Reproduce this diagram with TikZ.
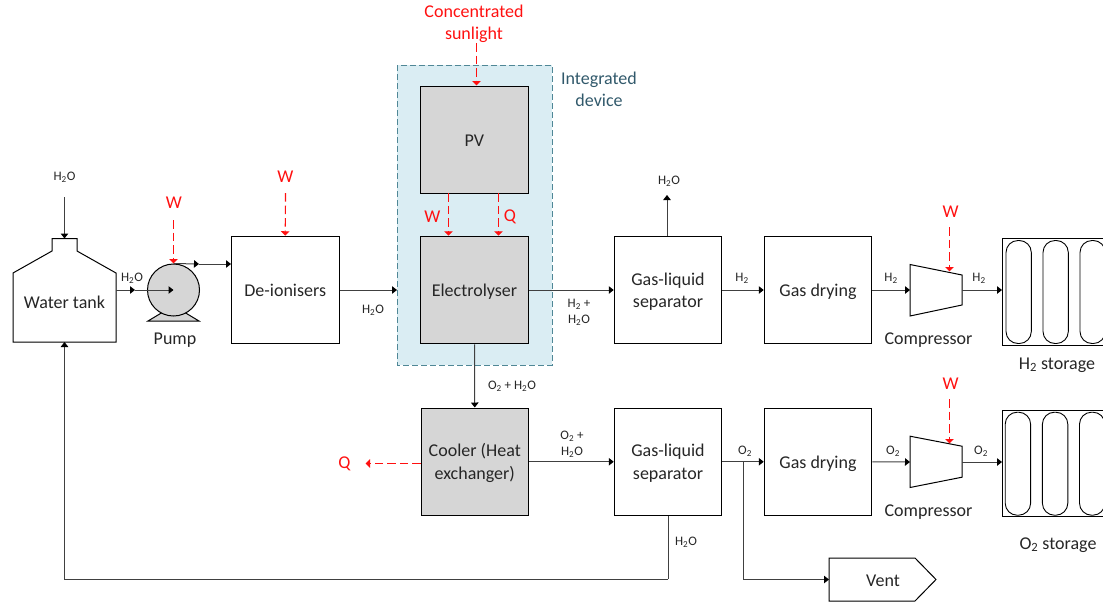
\documentclass[tikz,border=0pt]{standalone}
\usepackage{fontspec}
\setmainfont{Carlito}
\usetikzlibrary{arrows.meta}
\newcommand{\sub}[1]{\textsubscript{#1}}
\newcommand{\lowered}[1]{\raisebox{0pt}[\dimexpr\height+3.5pt\relax][\depth]{\begin{tabular}{@{}c@{}}#1\end{tabular}}}
\definecolor{devfill}{HTML}{DAEDF3}
\definecolor{devline}{HTML}{4F8796}
\definecolor{devtext}{HTML}{31596B}
\definecolor{unitgrey}{HTML}{D6D6D6}
\definecolor{redline}{HTML}{FF1010}
\tikzset{
  unitbox/.style={draw=black,line width=1pt,minimum width=107.5pt,minimum height=107.5pt,inner sep=0pt,align=center,font=\fontsize{18}{22.5}\selectfont,text=black!85},
  greybox/.style={unitbox,fill=unitgrey},
  flow/.style={line width=1pt,draw=black!75,-{Triangle[length=5pt,width=7.5pt,fill=black,color=black]}},
  plain/.style={line width=1pt,draw=black!75},
  heat/.style={line width=1.15pt,draw=redline,dash pattern=on 8.5pt off 4pt,-{Triangle[length=4.5pt,width=8.5pt,fill=redline]}},
  small/.style={inner sep=0pt,align=center,font=\fontsize{13}{16}\selectfont,text=black!85},
  big/.style={inner sep=0pt,align=center,font=\fontsize{18}{22}\selectfont,text=black!85},
  redtxt/.style={inner sep=0pt,align=center,font=\fontsize{18}{22}\selectfont,text=redline},
  shapeline/.style={line width=1pt,draw=black},
}
\begin{document}
\begin{tikzpicture}[x=1pt,y=-1pt]
\useasboundingbox (0,0) rectangle (1103,603);
\begin{scope}
\clip (0,0) rectangle (1103,603);
% integrated device
\path[fill=devfill,draw=devline,line width=1pt,dash pattern=on 6pt off 3pt] (397,65) rectangle (552,365);
\node[inner sep=0pt,align=center,font=\fontsize{18}{22}\selectfont,text=devtext] (devlabel) at (599,89.5) {Integrated\\device};
\coordinate (devwest) at (397,290);
% boxes
\node[greybox] (pv) at (474.25,139.75) {\lowered{PV}};
\node[greybox] (elec) at (474.5,290) {\lowered{Electrolyser}};
\node[unitbox] (deion) at (285.25,290) {\lowered{De-ionisers}};
\node[unitbox] (sepa) at (668,290) {\lowered{Gas-liquid\\separator}};
\node[unitbox] (drya) at (818,290) {\lowered{Gas drying}};
\node[greybox] (cool) at (474.75,461.75) {\lowered{Cooler (Heat\\exchanger)}};
\node[unitbox] (sepb) at (668,461.75) {\lowered{Gas-liquid\\separator}};
\node[unitbox] (dryb) at (818,461.75) {\lowered{Gas drying}};
% tank
\path[shapeline,fill=white] (13,342) -- (13,273) -- (52,251) -- (52,238.5) -- (77,238.5) -- (77,251) -- (116,273) -- (116,342) -- cycle;
\node[big] (tank) at (64.5,302) {Water tank};
\coordinate (tanktop) at (64.5,238.5);
\coordinate (tankbot) at (64.5,342);
\coordinate (tankout) at (116,290);
% pump
\path[shapeline,fill=unitgrey] (148,321) -- (163,312) -- (184,312) -- (199,321) -- cycle;
\node[circle,draw=black,line width=1pt,fill=unitgrey,minimum size=52pt,inner sep=0pt] (pump) at (173.5,290) {};
\node[big] (pumplabel) at (175,340.5) {Pump};
% compressors
\path[shapeline,fill=white] (910,264.5) -- (962,275) -- (962,305) -- (910,316) -- cycle;
\coordinate (compain) at (910,290);
\coordinate (compaout) at (962,290);
\coordinate (compatop) at (949.5,271.5);
\node[big] (compalabel) at (928.5,340.5) {Compressor};
\path[shapeline,fill=white] (910,436.2) -- (962,446.2) -- (962,477.2) -- (910,487.5) -- cycle;
\coordinate (compbin) at (910,462);
\coordinate (compbout) at (962,462);
\coordinate (compbtop) at (949.5,443.5);
\node[big] (compblabel) at (928.5,512.5) {Compressor};
% storages
\draw[shapeline] (1002,238.5) rectangle (1110,345.8);
\draw[shapeline] (1002,410.2) rectangle (1110,516.7);
\foreach \xx in {1006,1043,1080}{
  \draw[line width=0.9pt,black,rounded corners=12pt] (\xx,240.5) rectangle ++(25.3,103);
}
\foreach \xx in {1005.2,1042.4,1079.5}{
  \draw[line width=0.9pt,black,rounded corners=12pt] (\xx,412.2) rectangle ++(25.4,103);
}
\coordinate (stora) at (1002,290);
\coordinate (storb) at (1002,462);
\node[big] (storalabel) at (1057,365) {H\sub{2} storage};
\node[big] (storblabel) at (1058,545) {O\sub{2} storage};
% vent
\path[shapeline,fill=white] (829,558) -- (915,558) -- (936,579.5) -- (915,601) -- (829,601) -- cycle;
\node[big] (vent) at (883,581) {Vent};
\coordinate (ventin) at (829,579.5);
% black connectors
\coordinate (waterin) at (64.5,197);
\draw[flow] (waterin) -- (tanktop);
\coordinate (pumpmidl) at (135,290);
\draw[flow] (tankout) -- (pumpmidl);
\draw[flow] (pumpmidl) -- (pump.center);
\coordinate (pumpmidr) at (199,264);
\draw[flow] (pump.north) -- (pumpmidr);
\draw[flow] (pumpmidr) -- (deion.west |- pumpmidr);
\draw[flow] (deion.east) -- (devwest);
\draw[flow] (elec.east) -- (sepa.west);
\draw[flow] (sepa.east) -- (drya.west);
\draw[flow] (drya.east) -- (compain);
\draw[flow] (compaout) -- (stora);
\draw[flow] (elec.south) -- (cool.north);
\draw[flow] (cool.east) -- (sepb.west);
\draw[flow] (sepb.east) -- (dryb.west);
\draw[flow] (dryb.east) -- (compbin);
\draw[flow] (compbout) -- (storb);
\coordinate (branch) at (743.5,462);
\draw[flow] (branch) |- (ventin);
\coordinate (retcorner) at (668,579);
\draw[plain] (sepb.south -| retcorner) -- (retcorner);
\draw[flow] (retcorner) -| (tankbot);
\coordinate (vapour) at (667,195);
\draw[flow] (sepa.north -| vapour) -- (vapour);
% red connectors
\coordinate (wpump) at (173.5,220);
\draw[heat] (wpump) -- (pump.north);
\coordinate (wdei) at (285.5,193);
\draw[heat] (wdei) -- (deion.north);
\coordinate (sun) at (476.5,43);
\draw[heat] (sun) -- (sun |- pv.north);
\coordinate (wpv) at (448.5,193.25);
\draw[heat] (wpv) -- (wpv |- elec.north);
\coordinate (qpv) at (498.5,193.25);
\draw[heat] (qpv) -- (qpv |- elec.north);
\coordinate (wca) at (949.5,227);
\draw[heat] (wca) -- (compatop);
\coordinate (wcb) at (949.5,399);
\draw[heat] (wcb) -- (compbtop);
\coordinate (qout) at (365.5,463.5);
\draw[heat] (cool.west |- qout) -- (qout);
% red labels
\node[redtxt] (sunlabel) at (474,23.5) {Concentrated\\sunlight};
\node[redtxt] (wlpump) at (174,203) {W};
\node[redtxt] (wldei) at (285.5,177) {W};
\node[redtxt] (wlpv) at (432.5,216.5) {W};
\node[redtxt] (qlpv) at (510,216.5) {Q};
\node[redtxt] (wlca) at (950.5,211.5) {W};
\node[redtxt] (wlcb) at (950.5,383.5) {W};
\node[redtxt] (qlc) at (344.5,463.5) {Q};
% small labels
\node[small] (la) at (64.5,177.5) {H\sub{2}O};
\node[small] (lb) at (132,278.5) {H\sub{2}O};
\node[small] (lc) at (373,310.5) {H\sub{2}O};
\node[small] (ld) at (579,312.5) {H\sub{2} +\\H\sub{2}O};
\node[small] (le) at (669,181.5) {H\sub{2}O};
\node[small] (lf) at (742,278.5) {H\sub{2}};
\node[small] (lg) at (891,278.5) {H\sub{2}};
\node[small] (lh) at (979,278.5) {H\sub{2}};
\node[small] (li) at (512,386.5) {O\sub{2} + H\sub{2}O};
\node[small] (lj) at (572,444.5) {O\sub{2} +\\H\sub{2}O};
\node[small] (lk) at (745,451.5) {O\sub{2}};
\node[small] (ll) at (893,451.5) {O\sub{2}};
\node[small] (lm) at (981,451.5) {O\sub{2}};
\node[small] (ln) at (686,542.5) {H\sub{2}O};
\end{scope}
\end{tikzpicture}
\end{document}
